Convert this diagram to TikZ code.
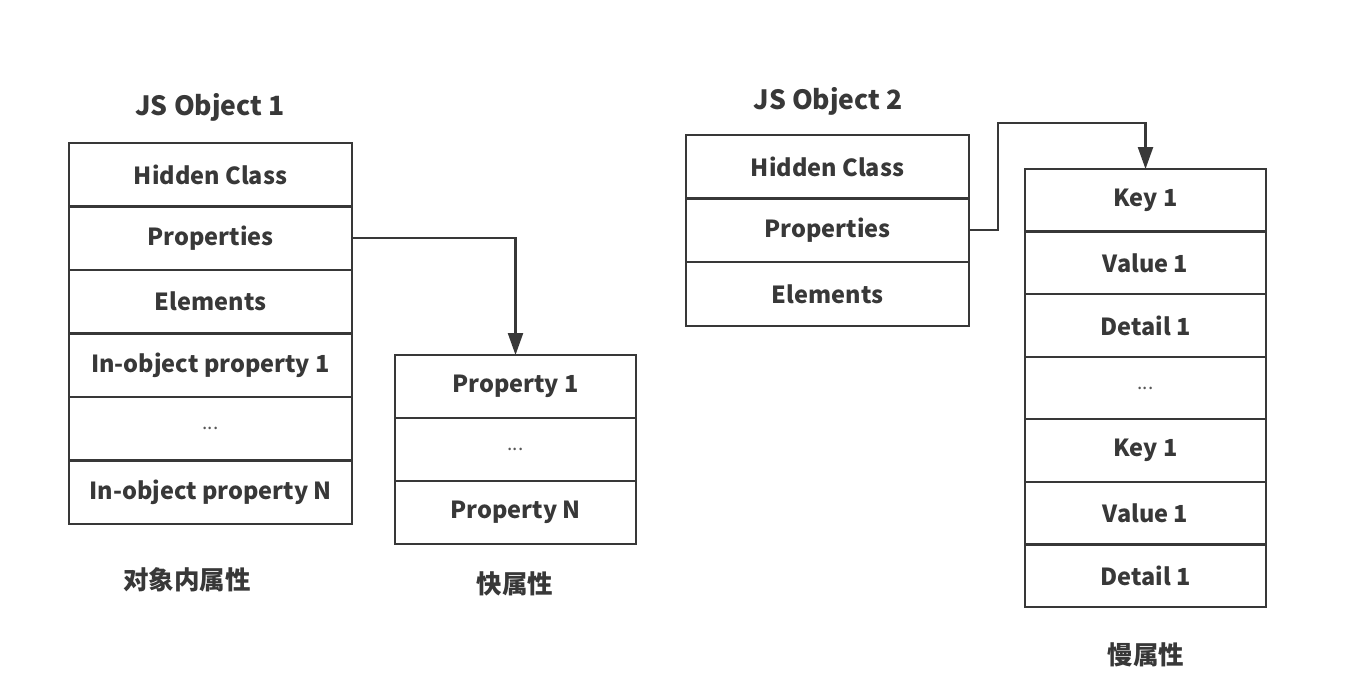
\documentclass[tikz,border=0pt]{standalone}
\usepackage{fontspec}
\setmainfont{Noto Sans CJK SC}
\usetikzlibrary{arrows.meta}
\definecolor{ink}{HTML}{383838}
\tikzset{
  cell/.style={draw=ink, line width=2.3pt, rectangle, inner sep=0pt, outer sep=0pt,
    text=ink, font=\fontsize{23.5}{27}\selectfont\bfseries, minimum height=#1},
  wcell/.style={cell=63.5pt, minimum width=283pt},
  ncell/.style={cell=63pt, minimum width=241pt},
  dots/.style={font=\fontsize{19}{23}\selectfont\mdseries, text=ink!85},
  titletext/.style={text=ink, font=\fontsize{26.5}{30}\selectfont\bfseries, inner sep=0pt},
  lbltext/.style={text=ink, font=\fontsize{25.5}{29}\selectfont\bfseries, inner sep=0pt},
  arr/.style={draw=ink, line width=2.3pt, -{Triangle[width=15pt,length=22pt]}}
}
\begin{document}
\begin{tikzpicture}[x=1pt,y=-1pt]
\useasboundingbox (0,0) rectangle (1360,690);
\fill[white] (0,0) rectangle (1360,690);
% Object 1
\node[titletext] (t1) at (210,107) {JS Object 1};
\node[wcell] (o1a) at (210.5,174.75) {Hidden Class};
\node[wcell] (o1b) at (210.5,238.25) {Properties};
\node[wcell] (o1c) at (210.5,301.75) {Elements};
\node[wcell] (o1d) at (210.5,365.25) {In-object property 1};
\node[wcell, dots] (o1e) at (210.5,428.75) {...};
\node[wcell] (o1f) at (210.5,492.25) {In-object property N};
\node[lbltext] (c1) at (187,580) {对象内属性};
% Fast properties
\node[ncell] (f1) at (515.5,386.5) {Property 1};
\node[ncell, dots] (f2) at (515.5,449.5) {...};
\node[ncell] (f3) at (515.5,512.5) {Property N};
\node[lbltext] (c2) at (515,584) {快属性};
% Object 2
\node[titletext] (t2) at (828,101) {JS Object 2};
\node[wcell, minimum height=63.67pt] (o2a) at (827.5,166.8) {Hidden Class};
\node[wcell, minimum height=63.67pt] (o2b) at (827.5,230.2) {Properties};
\node[wcell, minimum height=63.67pt] (o2c) at (827.5,294) {Elements};
% Slow properties
\node[ncell, minimum height=62.57pt] (s1) at (1145.5,200.3) {Key 1};
\node[ncell, minimum height=62.57pt] (s2) at (1145.5,262.9) {Value 1};
\node[ncell, minimum height=62.57pt] (s3) at (1145.5,325.4) {Detail 1};
\node[ncell, minimum height=62.57pt, dots] (s4) at (1145.5,388) {...};
\node[ncell, minimum height=62.57pt] (s5) at (1145.5,450.6) {Key 1};
\node[ncell, minimum height=62.57pt] (s6) at (1145.5,513.1) {Value 1};
\node[ncell, minimum height=62.57pt] (s7) at (1145.5,575.7) {Detail 1};
\node[lbltext] (c3) at (1146,655) {慢属性};
% arrows
\draw[arr] (o1b.east) -| (f1.north);
\coordinate (k1) at (998,123);
\draw[arr] (o2b.east) -| (k1) -| (s1.north);
\end{tikzpicture}
\end{document}
